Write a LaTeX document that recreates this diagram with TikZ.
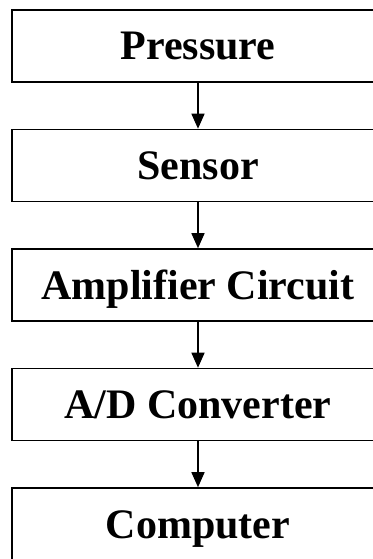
\documentclass[tikz,border=0pt]{standalone}
\usepackage{fontspec}
\setmainfont{Liberation Serif}
\usetikzlibrary{positioning,arrows.meta}

\begin{document}
\begin{tikzpicture}[node distance=119.5pt,
    stage/.style={draw, line width=1.6pt, minimum width=372pt, minimum height=72pt,
        inner sep=0pt, text height=28pt, text depth=0pt,
        font=\fontsize{42}{48}\selectfont\bfseries},
    flow/.style={-{Triangle[width=13pt,length=15pt]}, line width=1.5pt}]
                \useasboundingbox (0,0) rectangle (372pt,-559pt);
                \node[stage] (P) at (198pt,-46pt) {Pressure};
                \node[stage, below of=P] (S) {Sensor};
                \node[stage, below of=S] (A) {Amplifier Circuit};
                \node[stage, below of=A] (D) {A/D Converter};
                \node[stage, below of=D] (C) {Computer};
                \draw[flow] (P) -- (S);
                \draw[flow] (S) -- (A);
                \draw[flow] (A) -- (D);
                \draw[flow] (D) -- (C);
            \end{tikzpicture}
\end{document}
